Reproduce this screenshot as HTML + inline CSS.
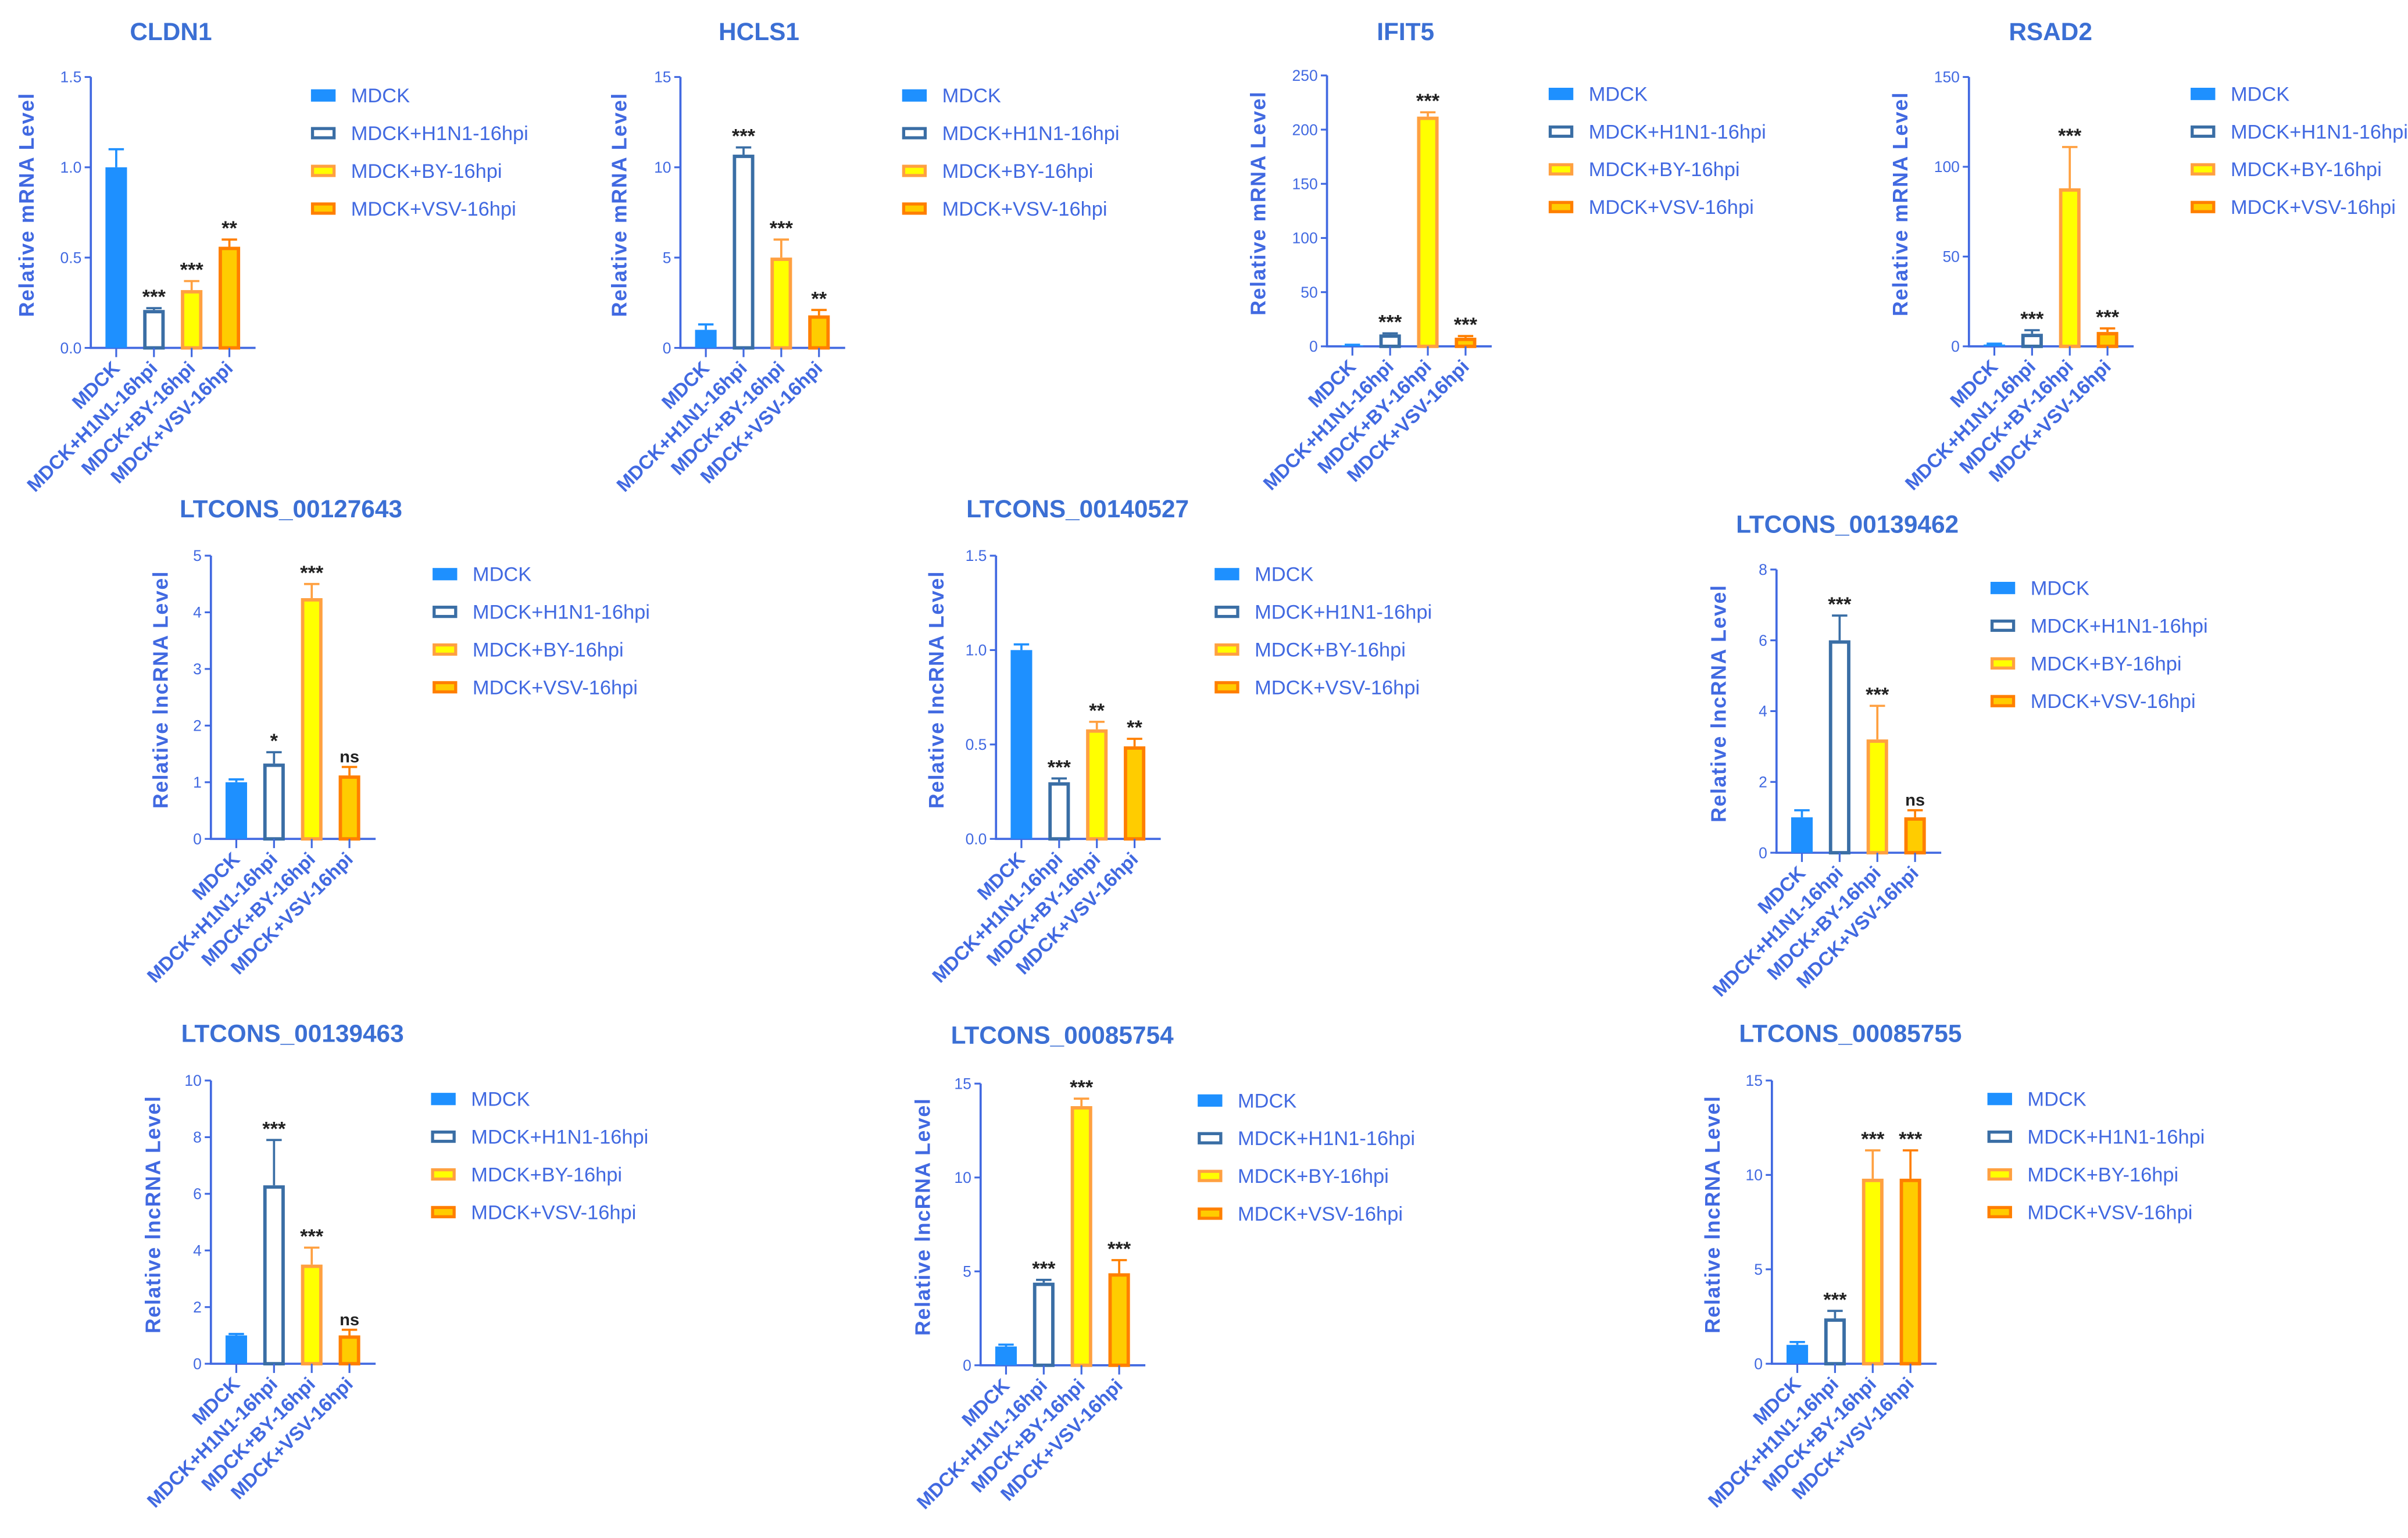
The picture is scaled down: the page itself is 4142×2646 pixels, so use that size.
<!DOCTYPE html>
<html><head><meta charset="utf-8"><style>
html,body{margin:0;padding:0;background:#fff;}
svg{display:block;}
text{font-family:"Liberation Sans Narrow","Liberation Sans",sans-serif;}
</style></head><body>
<svg id="fig" width="4142" height="2646" viewBox="0 0 1564.2 999.2" xmlns="http://www.w3.org/2000/svg"></svg>
<script>
const categories = ["MDCK","MDCK+H1N1-16hpi","MDCK+BY-16hpi","MDCK+VSV-16hpi"];
const titles = ["CLDN1","HCLS1","IFIT5","RSAD2","LTCONS_00127643","LTCONS_00140527","LTCONS_00139462","LTCONS_00139463","LTCONS_00085754","LTCONS_00085755"];
const yLabels = ["Relative mRNA Level","Relative mRNA Level","Relative mRNA Level","Relative mRNA Level","Relative lncRNA Level","Relative lncRNA Level","Relative lncRNA Level","Relative lncRNA Level","Relative lncRNA Level","Relative lncRNA Level"];
const values = [[1.0,0.21,0.32,0.56],[1.0,10.7,5.0,1.8],[1,11,212,8],[1,7,88,8],[1,1.33,4.25,1.12],[1.0,0.3,0.58,0.49],[1,6,3.2,1.0],[1,6.3,3.5,1.0],[1,4.4,13.8,4.9],[1,2.4,9.8,9.8]];
const errors = [[0.1,0.01,0.05,0.04],[0.3,0.4,1.0,0.3],[0.5,1,4,1.5],[0.5,2,23,2],[0.05,0.2,0.25,0.15],[0.03,0.02,0.04,0.04],[0.2,0.7,0.95,0.2],[0.05,1.6,0.6,0.2],[0.1,0.15,0.4,0.7],[0.15,0.4,1.5,1.5]];
const sigs = [["","***","***","**"],["","***","***","**"],["","***","***","***"],["","***","***","***"],["","*","***","ns"],["","***","**","**"],["","***","***","ns"],["","***","***","ns"],["","***","***","***"],["","***","***","***"]];
const tickLabels = [["0.0","0.5","1.0","1.5"],["0","5","10","15"],["0","50","100","150","200","250"],["0","50","100","150"],["0","1","2","3","4","5"],["0.0","0.5","1.0","1.5"],["0","2","4","6","8"],["0","2","4","6","8","10"],["0","5","10","15"],["0","5","10","15"]];
const layout = [
 {ax:59,top:50,bot:226,tx:111,ty:20,lx:202,ly:62,yl:22},
 {ax:442,top:50,bot:226,tx:493,ty:20,lx:586,ly:62,yl:407},
 {ax:862,top:49,bot:225,tx:913,ty:20,lx:1006,ly:61,yl:822},
 {ax:1279,top:50,bot:225,tx:1332,ty:20,lx:1423,ly:61,yl:1239},
 {ax:137,top:361,bot:545,tx:189,ty:330,lx:281,ly:373,yl:109},
 {ax:647,top:361,bot:545,tx:700,ty:330,lx:789,ly:373,yl:613},
 {ax:1154,top:370,bot:554,tx:1200,ty:340,lx:1293,ly:382,yl:1121},
 {ax:137,top:702,bot:886,tx:190,ty:671,lx:280,ly:714,yl:104},
 {ax:637,top:704,bot:887,tx:690,ty:672,lx:778,ly:715,yl:604},
 {ax:1151,top:702,bot:886,tx:1202,ty:671,lx:1291,ly:714,yl:1117}
];
const fills=["#1e90ff","#ffffff","#ffff00","#ffcc00"];
const strokes=["#1e90ff","#3a6ea5","#ffa040","#ff7f00"];
const C="#4169e1";
const svg=document.getElementById('fig');
const NS="http://www.w3.org/2000/svg";
function mk(tag,attrs,parent,txt){const e=document.createElementNS(NS,tag);for(const k in attrs)e.setAttribute(k,attrs[k]);if(txt!==undefined)e.textContent=txt;parent.appendChild(e);return e;}
titles.forEach((t,p)=>{
  const L=layout[p];
  const g=mk('g',{},svg);
  
  
  const ticks=tickLabels[p];const ymax=parseFloat(ticks[ticks.length-1]);
  const y=v=>L.bot-(v/ymax)*(L.bot-L.top);
  const step=24.5, x0=L.ax+16.5;
  const x=i=>x0+i*step;
  const bw=14;
  const tt=mk('text',{x:L.tx,y:L.ty+6,'text-anchor':'middle','font-size':16,fill:"#3b6fd4",'font-weight':'bold',style:'font-family:"Liberation Sans Narrow","Liberation Sans",sans-serif'},g,t);
  
  
  const xend=x(3)+bw/2+10;
  const axes=mk('path',{d:`M${L.ax},${L.top} V${L.bot} H${xend}`,stroke:C,'stroke-width':1.4,fill:'none'},g);
  
  
  ticks.forEach(tl=>{const v=parseFloat(tl);const yy=y(v);
    mk('line',{x1:L.ax-4,x2:L.ax,y1:yy,y2:yy,stroke:C,'stroke-width':1.2},g);
    const te=mk('text',{x:L.ax-6,y:yy+3.5,'text-anchor':'end','font-size':10,fill:C},g,tl);
    
    
  });
  const yc=(L.top+L.bot)/2-5;
  const ylab=mk('text',{x:L.yl,y:yc,'text-anchor':'middle','font-size':13.5,'font-weight':'bold','letter-spacing':0.6,fill:C,transform:`rotate(-90 ${L.yl} ${yc})`,style:'font-family:"Liberation Sans",sans-serif'},g,yLabels[p]);
  
  
  categories.forEach((c,i)=>{
    const v=values[p][i],e=errors[p][i];const cx=x(i);
    const sw=i===0?0:2.2;
    const top=y(v);
    const col=strokes[i];
    mk('line',{x1:cx,x2:cx,y1:top,y2:y(v+e),stroke:col,'stroke-width':1.4},g);
    mk('line',{x1:cx-5,x2:cx+5,y1:y(v+e),y2:y(v+e),stroke:col,'stroke-width':1.4},g);
    const r=mk('rect',{x:cx-bw/2+sw/2,y:top+sw/2,width:bw-sw,height:Math.max(0,L.bot-top-sw/2),fill:fills[i],stroke:i===0?'none':col,'stroke-width':sw},g);
    
    
    mk('line',{x1:cx,x2:cx,y1:L.bot,y2:L.bot+6,stroke:C,'stroke-width':1.2},g);
    if(sigs[p][i]){const s=mk('text',{x:cx,y:y(v+e)-3,'text-anchor':'middle','font-size':sigs[p][i]==='ns'?11:13,'font-weight':'bold',fill:'#222'},g,sigs[p][i]);
      
      }
    const lx=cx+3,ly=L.bot+14;
    const cl=mk('text',{x:lx,y:ly,'text-anchor':'end','font-size':12.5,'font-weight':'bold',fill:C,transform:`rotate(-45 ${lx} ${ly})`,style:'font-family:"Liberation Sans",sans-serif'},g,c);
    
    
    const ry=L.ly+i*24.5;
    const lg=mk('g',{},g);
    
    
    mk('rect',{x:L.lx+(i?1:0),y:ry-4+(i?1:0),width:i?14:16,height:i?6:8,fill:fills[i],stroke:i?col:'none','stroke-width':i?2:0},lg);
    mk('text',{x:L.lx+26,y:ry+4.5,'font-size':13,fill:C},lg,c);
  });
});
</script>
</body></html>
